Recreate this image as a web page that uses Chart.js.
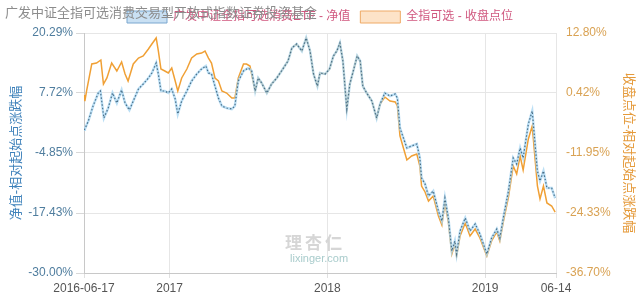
<!DOCTYPE html>
<html>
<head>
<meta charset="utf-8">
<script src="https://cdn.jsdelivr.net/npm/chart.js@4.4.1/dist/chart.umd.min.js"></script>
<style>
    html, body { margin: 0; padding: 0; background: #fff; }
    #wrap { position: relative; width: 640px; height: 300px; }
    #fund-name {
        position: absolute; left: 5px; top: 2px; white-space: nowrap;
        font: 13px "Noto Sans CJK SC", sans-serif; color: #8c8c8c; pointer-events: none;
    }
    #mark1 {
        position: absolute; left: 285px; top: 229px; white-space: nowrap;
        font: bold 17px "Noto Sans CJK SC", sans-serif; color: #d6d6d6; letter-spacing: 3px;
    }
    #mark2 {
        position: absolute; left: 290px; top: 252px; white-space: nowrap;
        font: 11px "Liberation Sans", sans-serif; color: #a9cccc;
    }
</style>
</head>
<body>
<div id="wrap">
    <canvas id="chart" width="640" height="300"></canvas>
    <div id="fund-name">广发中证全指可选消费交易型开放式指数证券投资基金</div>
    <div id="mark1">理杏仁</div>
    <div id="mark2">lixinger.com</div>
</div>
<script>
const startDate = '2016-06-17';
const xTickDates = ['2016-06-17', '2017-01-01', '2018-01-01', '2019-01-01', '2019-06-14'];
const xTickLabels = ['2016-06-17', '2017', '2018', '2019', '06-14'];
const leftTicks = [-30.0, -17.43, -4.85, 7.72, 20.29];
const rightTicks = [-36.7, -24.33, -11.95, 0.42, 12.8];

// 净值: days since start, % change
const navDays = [
    0, 2, 10, 21, 33, 38, 46, 56, 66, 76,
    87, 95, 105, 114, 126, 137, 149, 157, 167, 172,
    178, 187, 195, 203, 211, 217, 226, 238, 249, 261,
    272, 282, 288, 295, 303, 311, 319, 330, 342, 349,
    357, 369, 380, 388, 396, 403, 411, 423, 434, 446,
    457, 472, 481, 492, 504, 514, 523, 531, 540, 546,
    558, 568, 577, 585, 592, 599, 604, 608, 615, 623,
    632, 639, 645, 654, 666, 677, 685, 696, 708, 720,
    725, 731, 739, 747, 758, 770, 777, 781, 789, 797,
    808, 820, 828, 835, 843, 851, 858, 862, 870, 882,
    893, 905, 916, 932, 943, 955, 962, 970, 982, 993,
    1001, 1009, 1016, 1028, 1037, 1043, 1049, 1055, 1063, 1071,
    1082, 1090,
];
const navValues = [
    0, 0.17, 1.85, 4.99, 7.72, 8.14, 2.48, 4.57, 7.72, 5.62,
    8.35, 5.62, 4.16, 6.04, 8.56, 9.6, 10.86, 11.91, 14.0, 11.7,
    8.14, 8.14, 7.72, 8.56, 6.46, 3.32, 6.04, 8.14, 10.23, 11.7,
    12.75, 13.38, 11.91, 11.7, 9.18, 6.67, 4.99, 4.57, 4.36, 4.99,
    10.23, 12.33, 12.96, 12.33, 8.14, 10.86, 9.81, 7.72, 9.6, 10.86,
    12.33, 14.42, 17.15, 17.99, 16.52, 19.24, 16.52, 11.7, 9.18, 11.91,
    11.7, 12.75, 15.47, 16.52, 18.19, 14.42, 8.77, 4.36, 9.6, 12.33,
    15.47, 14.42, 9.18, 7.72, 6.04, 2.48, 5.41, 7.72, 7.09, 7.51,
    6.67, 0.38, -1.71, -3.81, -3.39, -2.97, -5.9, -10.09, -11.35, -13.87,
    -12.82, -17.01, -19.1, -14.28, -18.47, -25.39, -23.29, -26.02, -21.2, -18.47,
    -21.2, -19.73, -21.83, -26.02, -22.67, -20.78, -22.67, -18.47, -12.82, -5.9,
    -7.16, -3.81, -5.9, 1.22, 3.95, -2.34, -8.63, -10.72, -8.63, -12.19,
    -12.19, -14.28,
];

// 收盘点位: days since start, % change
const idxDays = [
    0, 2, 6, 18, 29, 39, 45, 53, 64, 76,
    87, 95, 102, 114, 126, 137, 149, 157, 167, 172,
    178, 187, 195, 203, 211, 217, 226, 238, 249, 261,
    272, 280, 288, 295, 303, 311, 319, 330, 342, 349,
    357, 369, 376, 384, 396, 403, 411, 423, 434, 446,
    457, 472, 481, 492, 504, 514, 523, 531, 540, 546,
    558, 568, 577, 585, 592, 599, 604, 608, 615, 623,
    632, 639, 645, 654, 666, 677, 685, 696, 708, 720,
    725, 731, 739, 747, 758, 770, 777, 781, 789, 797,
    808, 820, 828, 835, 843, 851, 858, 862, 870, 882,
    893, 905, 916, 932, 943, 955, 962, 970, 982, 993,
    1001, 1009, 1016, 1028, 1037, 1043, 1049, 1055, 1063, 1071,
    1082, 1090,
];
const idxValues = [
    0, -1.23, 0.84, 6.41, 6.61, 7.23, 2.28, 3.52, 6.61, 4.96,
    6.82, 4.34, 2.9, 6.41, 7.64, 8.06, 9.5, 10.53, 11.77, 9.09,
    5.37, 4.96, 4.55, 5.58, 2.9, 0.84, 3.52, 5.37, 7.64, 8.47,
    8.67, 9.09, 7.64, 6.61, 3.52, 2.9, 0.84, 0.42, -0.61, -0.61,
    3.52, 6.41, 6.41, 5.99, 0.84, 3.52, 2.49, 0.42, 2.28, 3.52,
    4.96, 7.02, 9.71, 10.53, 9.09, 11.77, 9.09, 4.34, 1.87, 4.55,
    4.34, 5.37, 8.06, 9.09, 10.74, 7.02, 1.46, -2.88, 2.28, 4.96,
    8.06, 7.02, 1.87, 0.42, -1.23, -4.73, -1.84, -0.4, -1.23, -1.43,
    -2.26, -8.44, -10.92, -13.39, -12.57, -12.16, -14.63, -18.76, -19.99, -21.85,
    -20.82, -24.94, -26.8, -22.26, -26.18, -32.78, -30.72, -33.19, -29.07, -26.39,
    -29.07, -27.63, -29.48, -33.19, -30.1, -28.24, -30.1, -26.18, -21.03, -14.63,
    -16.28, -12.57, -15.46, -9.06, -6.38, -12.57, -18.76, -21.44, -18.76, -22.26,
    -22.88, -24.12,
];

const fontFamily = '"Liberation Sans", "Noto Sans CJK SC", sans-serif';
const legendBoxes = {
    0: { fillStyle: '#c9e0f3', strokeStyle: '#7aa7cf', lineDash: [], lineWidth: 1 },
    2: { fillStyle: '#fde3c8', strokeStyle: '#efaa66', lineDash: [], lineWidth: 1 },
};

function dayOf(dateStr) {
    return (Date.parse(dateStr) - Date.parse(startDate)) / 86400000;
}

function toPoints(days, values) {
    return days.map((d, i) => ({ x: d, y: values[i] }));
}

function fixedTicks(list) {
    return (scale) => {
        scale.ticks = list.map((v) => ({ value: v }));
    };
}

const navPoints = toPoints(navDays, navValues);
const idxPoints = toPoints(idxDays, idxValues);

new Chart(document.getElementById('chart').getContext('2d'), {
    type: 'line',
    data: {
        datasets: [
            {
                label: '广发中证全指可选消费ETF - 净值',
                data: navPoints,
                borderColor: '#4a6f88',
                borderWidth: 1.2,
                borderDash: [1.5, 2],
                pointRadius: 0,
                yAxisID: 'yL',
                order: 0,
            },
            {
                label: 'halo',
                data: navPoints,
                borderColor: 'rgba(170, 215, 242, 0.8)',
                borderWidth: 2.5,
                pointRadius: 0,
                yAxisID: 'yL',
                order: 1,
            },
            {
                label: '全指可选 - 收盘点位',
                data: idxPoints,
                borderColor: '#f0a035',
                borderWidth: 1.5,
                pointRadius: 0,
                yAxisID: 'yR',
                order: 2,
            },
        ],
    },
    options: {
        responsive: false,
        animation: false,
        layout: { padding: { top: 1, left: 0, right: 0, bottom: 0 } },
        plugins: {
            tooltip: { enabled: false },
            legend: {
                labels: {
                    boxWidth: 40,
                    boxHeight: 12,
                    padding: 10,
                    color: '#d0587f',
                    font: { size: 12, family: fontFamily },
                    generateLabels: (chart) => Chart.defaults.plugins.legend.labels.generateLabels(chart)
                        .filter((item) => item.datasetIndex !== 1)
                        .map((item) => Object.assign(item, legendBoxes[item.datasetIndex])),
                },
            },
        },
        scales: {
            x: {
                type: 'linear',
                min: 0,
                max: dayOf('2019-06-14'),
                afterBuildTicks: fixedTicks(xTickDates.map(dayOf)),
                afterFit: (scale) => { scale.height = 27; },
                grid: { color: '#e6e6e6', tickLength: 5, tickColor: '#e0e0e0' },
                border: { color: '#c8c8c8' },
                ticks: {
                    autoSkip: false,
                    maxRotation: 0,
                    padding: 3,
                    color: '#555',
                    font: { size: 12, family: fontFamily },
                    callback: (value, index) => xTickLabels[index],
                },
            },
            yL: {
                position: 'left',
                min: leftTicks[0],
                max: leftTicks[leftTicks.length - 1],
                afterBuildTicks: fixedTicks(leftTicks),
                afterFit: (scale) => { scale.width = 84; },
                grid: { color: '#e6e6e6', tickLength: 8, tickColor: '#d8d8d8' },
                border: { color: '#c8c8c8' },
                title: {
                    display: true,
                    text: '净值-相对起始点涨跌幅',
                    color: '#3f82bb',
                    font: { size: 13, family: fontFamily },
                    padding: { top: 9, bottom: 0 },
                },
                ticks: {
                    autoSkip: false,
                    padding: 3,
                    color: '#4f7d9e',
                    font: { size: 12, family: fontFamily },
                    callback: (value) => value.toFixed(2) + '%',
                },
            },
            yR: {
                position: 'right',
                min: rightTicks[0],
                max: rightTicks[rightTicks.length - 1],
                afterBuildTicks: fixedTicks(rightTicks),
                afterFit: (scale) => { scale.width = 84; },
                grid: { display: false, drawTicks: false },
                border: { display: false },
                title: {
                    display: true,
                    text: '收盘点位-相对起始点涨跌幅',
                    color: '#e59a3a',
                    font: { size: 13, family: fontFamily },
                    padding: { top: 4, bottom: 0 },
                },
                ticks: {
                    autoSkip: false,
                    padding: 10,
                    color: '#d9a253',
                    font: { size: 12, family: fontFamily },
                    callback: (value) => value.toFixed(2) + '%',
                },
            },
        },
    },
});
</script>
</body>
</html>
